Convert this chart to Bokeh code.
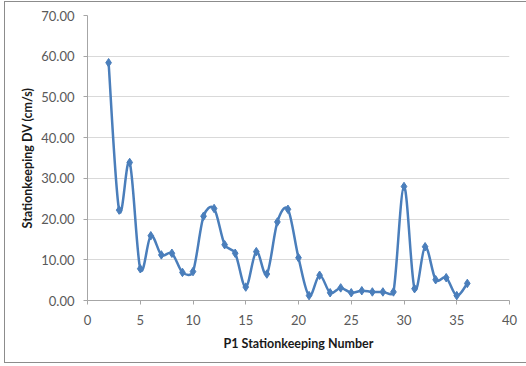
import numpy as np
from bokeh.plotting import figure
from bokeh.models import Range1d, SingleIntervalTicker, NumeralTickFormatter, InlineStyleSheet
from bokeh.embed import file_html
from bokeh.resources import INLINE

# Data
stationkeeping_number = [2, 3, 4, 5, 6, 7, 8, 9, 10, 11, 12, 13, 14, 15, 16, 17, 18, 19,
                         20, 21, 22, 23, 24, 25, 26, 27, 28, 29, 30, 31, 32, 33, 34, 35, 36]
stationkeeping_dv = [58.4, 22.2, 33.9, 7.8, 15.9, 11.2, 11.6, 6.9, 7.1, 20.7, 22.6, 13.7,
                     11.6, 3.3, 12.0, 6.5, 19.3, 22.4, 10.5, 1.2, 6.2, 1.9, 3.1, 1.9,
                     2.4, 2.1, 2.1, 2.1, 28.0, 2.9, 13.2, 5.1, 5.6, 1.2, 4.2]
x_ticks_interval = 5
y_ticks_interval = 10

LINE = "#4A7EBB"
FONT = "Lato"
X_START, X_END = 0, 40
Y_START, Y_END = 0, 70
W, H = 526, 366
BL, BR, BT, BB = 87, 17, 15, 66

p = figure(width=W, height=H, output_backend="svg", toolbar_location=None,
           x_range=Range1d(X_START, X_END), y_range=Range1d(Y_START, Y_END),
           min_border_left=BL, min_border_right=BR, min_border_top=BT, min_border_bottom=BB)
p.outline_line_color = None
p.background_fill_color = "white"
p.border_fill_color = "white"

# Excel-style smoothed line: Bezier segments, control points computed in pixel space
sx = (W - BL - BR) / (X_END - X_START)
sy = (H - BT - BB) / (Y_END - Y_START)
x = np.array(stationkeeping_number, dtype=float)
y = np.array(stationkeeping_dv, dtype=float)
P = np.column_stack([x * sx, y * sy])
n = len(P)
segs = {k: [] for k in ("x0", "y0", "x1", "y1", "cx0", "cy0", "cx1", "cy1")}
f = 1.0 / 6.0
for i in range(n - 1):
    p0 = P[i - 1] if i > 0 else P[i]
    p1 = P[i]
    p2 = P[i + 1]
    p3 = P[i + 2] if i + 2 < n else P[i + 1]
    d12 = np.linalg.norm(p2 - p1)
    d02 = np.linalg.norm(p2 - p0)
    d13 = np.linalg.norm(p3 - p1)
    f0 = f if d02 / 6 < d12 / 2 else (d12 / d02 / 2 if d02 > 0 else 0)
    f1 = f if d13 / 6 < d12 / 2 else (d12 / d13 / 2 if d13 > 0 else 0)
    c0 = p1 + (p2 - p0) * f0
    c1 = p2 - (p3 - p1) * f1
    segs["x0"].append(p1[0] / sx); segs["y0"].append(p1[1] / sy)
    segs["x1"].append(p2[0] / sx); segs["y1"].append(p2[1] / sy)
    segs["cx0"].append(c0[0] / sx); segs["cy0"].append(c0[1] / sy)
    segs["cx1"].append(c1[0] / sx); segs["cy1"].append(c1[1] / sy)

p.bezier(line_color=LINE, line_width=2.5, **segs)
p.scatter(x, y, marker="diamond", size=8.5, fill_color=LINE, line_color=LINE)

# Axes
p.xaxis.ticker = SingleIntervalTicker(interval=x_ticks_interval)
p.yaxis.ticker = SingleIntervalTicker(interval=y_ticks_interval)
p.yaxis.formatter = NumeralTickFormatter(format="0.00")
p.xgrid.grid_line_color = None
p.ygrid.grid_line_color = "#d9d9d9"
p.ygrid.grid_line_width = 1.2

for ax in (p.xaxis[0], p.yaxis[0]):
    ax.axis_line_color = "#a6a6a6"
    ax.major_tick_line_color = "#a6a6a6"
    ax.major_tick_out = 4
    ax.major_tick_in = 0
    ax.minor_tick_line_color = None
    ax.major_label_text_font = FONT
    ax.major_label_text_font_size = "13px"
    ax.major_label_text_color = "#595959"
    ax.axis_label_text_font = FONT
    ax.axis_label_text_font_style = "bold"
    ax.axis_label_text_font_size = "12.5px"
    ax.axis_label_text_color = "#1a1a1a"

p.xaxis.axis_label = "P1 Stationkeeping Number"
p.yaxis.axis_label = "Stationkeeping DV (cm/s)"
p.xaxis.major_label_standoff = 10
p.xaxis.axis_label_standoff = 8
p.yaxis.major_label_standoff = 9
p.yaxis.axis_label_standoff = 3

# Outer chart border (top, left, bottom visible as in the reference)
p.stylesheets = [InlineStyleSheet(css="""
:host { position: relative; }
:host::after {
  content: ''; position: absolute; left: 4px; top: 1px; width: 522px; height: 362px;
  box-sizing: border-box; border: 1.5px solid #8c8c8c; border-right: none;
  pointer-events: none; z-index: 10;
}
""")]

open("out.html", "w").write(file_html(p, INLINE))
